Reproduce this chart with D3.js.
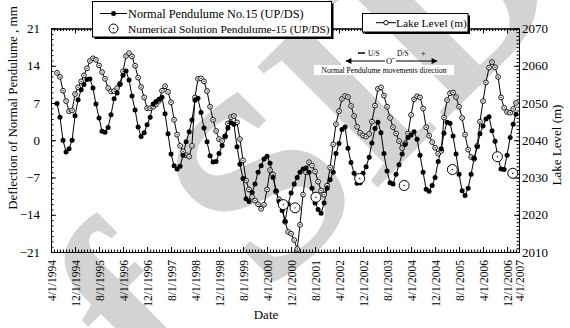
<!DOCTYPE html>
<html>
<head>
<meta charset="utf-8">
<script src="https://cdn.jsdelivr.net/npm/d3@7"></script>
<style>
  body { margin: 0; background: #fff; }
  svg { display: block; font-family: "Liberation Serif", "Times New Roman", serif; }
</style>
</head>
<body>
<svg id="chart" width="570" height="328"></svg>
<script>
// monthly readings, first one is June 1994
const firstMonth = "6/1/1994";

// Normal Pendulum No.15 deflection (mm)
const pendulum = [
  6.9, 4.3, 0.0, -2.2, -1.6, 0.0, 4.6, 7.6, 9.5, 10.5,
  11.4, 11.5, 9.8, 6.8, 4.2, 1.7, 1.5, 2.4, 4.8, 7.8,
  8.9, 10.5, 12.2, 13.0, 11.3, 8.3, 5.7, 2.5, 0.7, 1.4,
  2.9, 4.3, 6.8, 7.3, 7.7, 8.1, 5.0, 1.2, -2.6, -4.8,
  -5.4, -4.9, -2.8, -0.3, 1.6, 3.8, 7.5, 7.9, 5.2, 2.3,
  -0.3, -2.9, -4.1, -4.0, -2.5, -1.0, 0.8, 2.3, 3.3, 3.0,
  -1.2, -4.5, -7.2, -11.0, -11.5, -9.8, -8.2, -6.0, -4.8, -3.5,
  -3.0, -4.3, -7.0, -9.5, -11.5, -13.2, -15.2, -12.0, -9.9, -8.2,
  -7.0, -6.0, -5.4, -5.2, -6.0, -9.0, -11.8, -13.0, -13.7, -11.8,
  -9.0, -7.4, -6.0, -2.5, -0.6, 2.0, 2.5, -1.5, -4.2, -6.2,
  -8.1, -8.0, -6.2, -5.0, -3.2, -0.5, 2.2, 3.4, 1.4, -2.5,
  -5.8, -8.0, -8.2, -6.4, -4.6, -2.6, -0.8, 0.5, 1.0, 1.6,
  0.2, -2.8, -6.0, -9.2, -9.6, -8.5, -7.0, -4.0, -1.6, 1.3,
  3.4, 3.2, 0.8, -2.6, -6.4, -9.5, -10.4, -9.0, -6.4, -3.4,
  -1.2, 1.2, 2.7, 4.0, 4.4, 1.8, -0.2, -3.5, -5.4, -5.5,
  -2.8, 0.5, 3.0, 4.9
];

// Lake level (m)
const lakeLevel = [
  2058.1, 2057.0, 2053.3, 2050.5, 2047.8, 2048.0, 2052.4, 2054.2, 2055.8, 2057.4,
  2059.3, 2061.3, 2062.0, 2061.6, 2060.1, 2058.3, 2056.5, 2054.0, 2053.1, 2053.2,
  2054.0, 2055.2, 2058.5, 2062.6, 2063.4, 2062.5, 2060.0, 2056.8, 2054.3, 2051.5,
  2048.6, 2048.6, 2049.0, 2049.6, 2050.6, 2053.3, 2054.5, 2053.0, 2050.2, 2045.5,
  2041.5, 2038.5, 2037.0, 2036.0, 2035.6, 2038.5, 2051.5, 2056.5, 2056.6, 2055.8,
  2053.2, 2049.0, 2045.5, 2042.5, 2040.3, 2039.8, 2041.0, 2044.5, 2046.2, 2046.5,
  2044.8, 2040.3, 2034.6, 2029.2, 2026.8, 2024.8, 2023.8, 2022.8, 2021.6, 2022.7,
  2026.8, 2032.0, 2030.8, 2026.2, 2024.1, 2022.2, 2018.1, 2015.4, 2014.9, 2013.2,
  2010.8, 2017.3, 2025.4, 2031.4, 2034.1, 2033.2, 2031.6, 2028.9, 2026.5, 2025.4,
  2027.8, 2032.7, 2038.9, 2044.3, 2047.8, 2051.1, 2051.9, 2051.6, 2049.2, 2046.5,
  2043.6, 2042.0, 2041.3, 2041.0, 2041.7, 2045.0, 2049.3, 2053.8, 2054.2, 2052.0,
  2049.0, 2046.0, 2043.5, 2041.8, 2039.8, 2037.9, 2039.2, 2041.8, 2046.8, 2051.0,
  2051.8, 2051.5, 2048.5, 2043.5, 2041.2, 2039.5, 2038.0, 2036.4, 2037.1, 2046.1,
  2050.8, 2052.6, 2052.8, 2051.6, 2049.0, 2046.0, 2041.5, 2037.5, 2035.5, 2035.0,
  2038.5, 2045.0, 2050.5, 2055.5, 2059.5, 2061.0, 2059.6, 2057.0, 2051.5, 2048.7,
  2047.6, 2047.4, 2048.4, 2050.0
];

// Numerical solution Pendulume-15
const numDates = ["9/13/2000", "1/10/2001", "8/10/2001", "10/28/2002",
                  "1/22/2004", "5/25/2005", "8/25/2006", "1/28/2007"];
const numValues = [-12.1, -12.7, -10.7, -7.2, -8.5, -5.5, -3.1, -6.2];

const dateTicks = ["4/1/1994", "12/1/1994", "8/1/1995", "4/1/1996", "12/1/1996",
  "8/1/1997", "4/1/1998", "12/1/1998", "8/1/1999", "4/1/2000", "12/1/2000",
  "8/1/2001", "4/1/2002", "12/1/2002", "8/1/2003", "4/1/2004", "12/1/2004",
  "8/1/2005", "4/1/2006", "12/1/2006", "4/1/2007"];
const leftTicks = [-21, -14, -7, 0, 7, 14, 21];
const rightTicks = [2010, 2020, 2030, 2040, 2050, 2060, 2070];

const W = 570, H = 328;
const margin = { top: 28.5, right: 51, bottom: 76, left: 51 };
const parseDate = d3.timeParse("%m/%d/%Y");
const fmt = d3.timeFormat("%-m/%-d/%Y");

const months = pendulum.map((d, i) => d3.timeMonth.offset(parseDate(firstMonth), i));

const svg = d3.select("#chart");

// watermark in the background
svg.append("text")
  .attr("transform", "translate(70,495) rotate(-45)")
  .attr("font-size", 260)
  .attr("font-weight", "bold")
  .attr("fill", "#d3d3d3")
  .text("of SID");

const x = d3.scaleTime()
  .domain([parseDate(dateTicks[0]), parseDate(dateTicks[dateTicks.length - 1])])
  .range([margin.left, W - margin.right]);
const yL = d3.scaleLinear().domain([-21, 21]).range([H - margin.bottom, margin.top]);
const yR = d3.scaleLinear().domain([2010, 2070]).range([H - margin.bottom, margin.top]);

const g = svg.append("g");

function styleAxis(sel) {
  sel.attr("font-family", "Liberation Serif");
  sel.selectAll("path,line").attr("stroke", "#000").attr("stroke-width", 1);
  sel.selectAll("text").attr("fill", "#000");
}

const allMonths = d3.timeMonth.range(x.domain()[0], x.domain()[1]);

// bottom axis
g.append("g")
  .attr("transform", `translate(0,${H - margin.bottom})`)
  .call(d3.axisBottom(x).tickValues(allMonths).tickSize(-2.5).tickSizeOuter(0).tickFormat(""))
  .call(styleAxis);
const xb = g.append("g")
  .attr("transform", `translate(0,${H - margin.bottom})`)
  .call(d3.axisBottom(x).tickValues(dateTicks.map(parseDate)).tickSize(-5).tickSizeOuter(0).tickFormat(fmt))
  .call(styleAxis);
xb.selectAll("text")
  .attr("font-size", 11.5)
  .attr("transform", "rotate(-90)")
  .attr("text-anchor", "end")
  .attr("x", -8)
  .attr("y", 0)
  .attr("dy", "0.35em");

// top axis
g.append("g")
  .attr("transform", `translate(0,${margin.top})`)
  .call(d3.axisTop(x).tickValues(allMonths).tickSize(-2.5).tickSizeOuter(0).tickFormat(""))
  .call(styleAxis);
g.append("g")
  .attr("transform", `translate(0,${margin.top})`)
  .call(d3.axisTop(x).tickValues(dateTicks.map(parseDate)).tickSize(-5).tickSizeOuter(0).tickFormat(""))
  .call(styleAxis);

// left axis
g.append("g")
  .attr("transform", `translate(${margin.left},0)`)
  .call(d3.axisLeft(yL).tickValues(d3.range(-21, 22, 1)).tickSize(-2.5).tickSizeOuter(0).tickFormat(""))
  .call(styleAxis);
const yl = g.append("g")
  .attr("transform", `translate(${margin.left},0)`)
  .call(d3.axisLeft(yL).tickValues(leftTicks).tickSize(-5).tickSizeOuter(0).tickPadding(11).tickFormat(d3.format("d")))
  .call(styleAxis);
yl.selectAll("text").attr("font-size", 13);

// right axis
g.append("g")
  .attr("transform", `translate(${W - margin.right},0)`)
  .call(d3.axisRight(yR).tickValues(d3.range(2010, 2071, 1)).tickSize(-2.5).tickSizeOuter(0).tickFormat(""))
  .call(styleAxis);
const yr = g.append("g")
  .attr("transform", `translate(${W - margin.right},0)`)
  .call(d3.axisRight(yR).tickValues(rightTicks).tickSize(-5).tickSizeOuter(0).tickPadding(3).tickFormat(d3.format("d")))
  .call(styleAxis);
yr.selectAll("text").attr("font-size", 13);

// axis titles
svg.append("text")
  .attr("transform", "translate(17,108) rotate(-90)")
  .attr("text-anchor", "middle")
  .attr("font-size", 13)
  .text("Deflection of Normal Pendulume , mm");
svg.append("text")
  .attr("transform", "translate(561,145) rotate(-90)")
  .attr("text-anchor", "middle")
  .attr("font-size", 13)
  .text("Lake Level (m)");
svg.append("text")
  .attr("x", 266).attr("y", 319)
  .attr("text-anchor", "middle")
  .attr("font-size", 13)
  .text("Date");

// series
const lakeLine = d3.line().x((d, i) => x(months[i])).y(d => yR(d));
const pendLine = d3.line().x((d, i) => x(months[i])).y(d => yL(d));

svg.append("path").datum(lakeLevel)
  .attr("d", lakeLine).attr("fill", "none").attr("stroke", "#000").attr("stroke-width", 1);
svg.append("path").datum(pendulum)
  .attr("d", pendLine).attr("fill", "none").attr("stroke", "#000").attr("stroke-width", 1);

const lakePts = svg.append("g").selectAll("g").data(lakeLevel).join("g")
  .attr("transform", (d, i) => `translate(${x(months[i])},${yR(d)})`);
lakePts.append("circle").attr("r", 2.4).attr("fill", "#fff").attr("stroke", "#000").attr("stroke-width", 0.9);
lakePts.append("circle").attr("r", 0.7).attr("fill", "#000");

svg.append("g").selectAll("circle").data(pendulum).join("circle")
  .attr("cx", (d, i) => x(months[i]))
  .attr("cy", d => yL(d))
  .attr("r", 2.5)
  .attr("fill", "#000");

const numPts = svg.append("g").selectAll("g").data(numValues).join("g")
  .attr("transform", (d, i) => `translate(${x(parseDate(numDates[i]))},${yL(d)})`);
numPts.append("circle").attr("r", 5).attr("fill", "#fff").attr("stroke", "#000").attr("stroke-width", 1);
numPts.append("circle").attr("r", 0.7).attr("fill", "#000");

// direction note
const note = svg.append("g");
note.append("rect").attr("x", 314).attr("y", 65).attr("width", 140).attr("height", 10).attr("fill", "#fff");
note.append("text").attr("x", 384).attr("y", 73).attr("text-anchor", "middle")
  .attr("font-size", 7.6).text("Normal Pendulume movements direction");
const defs = svg.append("defs");
defs.append("marker").attr("id", "ah").attr("viewBox", "0 0 10 10")
  .attr("refX", 9).attr("refY", 5).attr("markerWidth", 9).attr("markerHeight", 6)
  .attr("markerUnits", "userSpaceOnUse").attr("orient", "auto")
  .append("path").attr("d", "M0,0L10,5L0,10Z").attr("fill", "#000");
note.append("line").attr("x1", 385).attr("y1", 61).attr("x2", 346).attr("y2", 61)
  .attr("stroke", "#000").attr("stroke-width", 1.2).attr("marker-end", "url(#ah)");
note.append("line").attr("x1", 396).attr("y1", 61).attr("x2", 437).attr("y2", 61)
  .attr("stroke", "#000").attr("stroke-width", 1.2).attr("marker-end", "url(#ah)");
note.append("line").attr("x1", 358).attr("y1", 53).attr("x2", 365).attr("y2", 53)
  .attr("stroke", "#000").attr("stroke-width", 1.5);
note.append("text").attr("x", 368).attr("y", 56).attr("font-size", 7.5).text("U/S");
note.append("text").attr("x", 386).attr("y", 64).attr("font-size", 8.5).text("O");
note.append("text").attr("x", 392).attr("y", 61).attr("font-size", 8).text("-");
note.append("text").attr("x", 397).attr("y", 56).attr("font-size", 7.5).text("D/S");
note.append("text").attr("x", 421).attr("y", 56).attr("font-size", 8).text("+");

// legends
function box(x0, y0, w, h) {
  svg.append("rect").attr("x", x0 + 2).attr("y", y0 + 2).attr("width", w).attr("height", h).attr("fill", "#000");
  svg.append("rect").attr("x", x0).attr("y", y0).attr("width", w).attr("height", h)
    .attr("fill", "#fff").attr("stroke", "#000").attr("stroke-width", 1);
}
box(92.5, 1.5, 239, 35.5);
svg.append("line").attr("x1", 100).attr("x2", 127).attr("y1", 13.5).attr("y2", 13.5).attr("stroke", "#000");
svg.append("circle").attr("cx", 113.5).attr("cy", 13.5).attr("r", 2.5).attr("fill", "#000");
svg.append("text").attr("x", 128).attr("y", 17.5).attr("font-size", 12.3).text("Normal Pendulume No.15 (UP/DS)");
svg.append("circle").attr("cx", 113.5).attr("cy", 28.5).attr("r", 4.5).attr("fill", "#fff").attr("stroke", "#000");
svg.append("circle").attr("cx", 113.5).attr("cy", 28.5).attr("r", 0.7).attr("fill", "#000");
svg.append("text").attr("x", 128).attr("y", 32.5).attr("font-size", 11.4).text("Numerical Solution Pendulume-15 (UP/DS)");

box(362.5, 13.5, 105.5, 18.5);
svg.append("line").attr("x1", 376).attr("x2", 396).attr("y1", 22.7).attr("y2", 22.7).attr("stroke", "#000");
svg.append("circle").attr("cx", 386).attr("cy", 22.7).attr("r", 2.2).attr("fill", "#fff").attr("stroke", "#000").attr("stroke-width", 0.9);
svg.append("text").attr("x", 396).attr("y", 27).attr("font-size", 11.4).text("Lake Level (m)");
</script>
</body>
</html>
